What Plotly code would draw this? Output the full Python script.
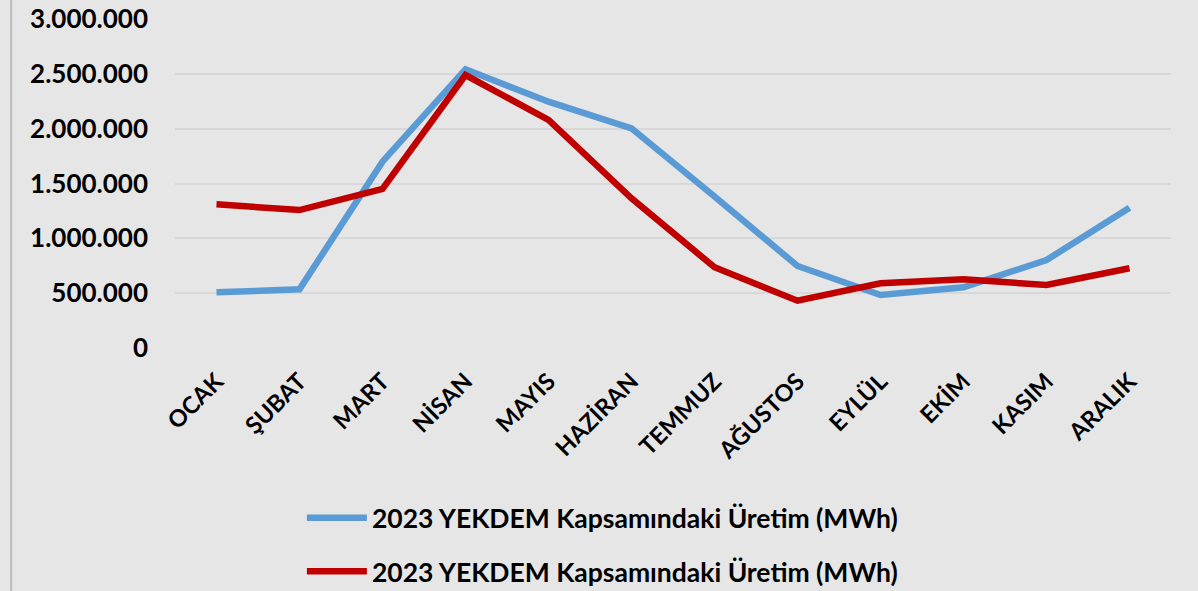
import plotly.graph_objects as go

# Monthly categories (Turkish month names)
months = ["OCAK", "ŞUBAT", "MART", "NİSAN", "MAYIS", "HAZİRAN",
          "TEMMUZ", "AĞUSTOS", "EYLÜL", "EKİM", "KASIM", "ARALIK"]

# Production under YEKDEM scope, MWh
series_blue = [508000, 535000, 1699000, 2541000, 2246000, 2003000,
               1382000, 748000, 483000, 553000, 802000, 1279000]
series_red = [1310000, 1258000, 1450000, 2489000, 2079000, 1365000,
              736000, 431000, 590000, 626000, 574000, 727000]

series_name = "2023 YEKDEM Kapsamındaki Üretim (MWh)"

y_tickvals = [0, 500000, 1000000, 1500000, 2000000, 2500000, 3000000]
y_ticktext = ["0", "500.000", "1.000.000", "1.500.000", "2.000.000",
              "2.500.000", "3.000.000"]

BG = "#e6e6e6"
FONT = "Lato"

fig = go.Figure()
fig.add_trace(go.Scatter(
    x=months, y=series_blue, mode="lines", name=series_name,
    line=dict(color="#5b9bd5", width=6.5), legendgroup="a",
))
fig.add_trace(go.Scatter(
    x=months, y=series_red, mode="lines", name=series_name,
    line=dict(color="#c00000", width=6.5), legendgroup="b",
))

fig.update_layout(
    width=1198, height=591,
    margin=dict(l=175, r=27, t=19, b=243, autoexpand=False),
    paper_bgcolor=BG, plot_bgcolor=BG,
    font=dict(family=FONT, color="#000000", size=25),
    showlegend=True,
    legend=dict(
        orientation="v", xref="container", yref="container",
        x=0.252, xanchor="left", y=0.164, yanchor="top",
        bgcolor="rgba(0,0,0,0)", tracegroupgap=16, itemwidth=60,
        font=dict(family=FONT, size=26.5, weight="bold"),
    ),
    xaxis=dict(
        range=[-0.5, 11.5], automargin=False,
        showgrid=False, zeroline=False, showline=False,
        tickangle=-45, ticks="", ticklabelstandoff=14,
        tickfont=dict(family=FONT, size=23.5, weight="bold"),
    ),
    yaxis=dict(
        range=[0, 3000000], tickvals=y_tickvals, ticktext=y_ticktext,
        automargin=False,
        showgrid=True, gridcolor="#d8d8d8", gridwidth=2,
        zeroline=False, showline=False, ticks="", ticklabelstandoff=26,
        tickfont=dict(family=FONT, size=26, weight="bold"),
    ),
)

# Thin frame line along the left edge of the chart area
fig.add_shape(
    type="line", xref="paper", yref="paper",
    x0=-0.1645, x1=-0.1645, y0=-0.8, y1=1.1,
    line=dict(color="#bdbdbd", width=2),
)

fig.write_html("out.html")
